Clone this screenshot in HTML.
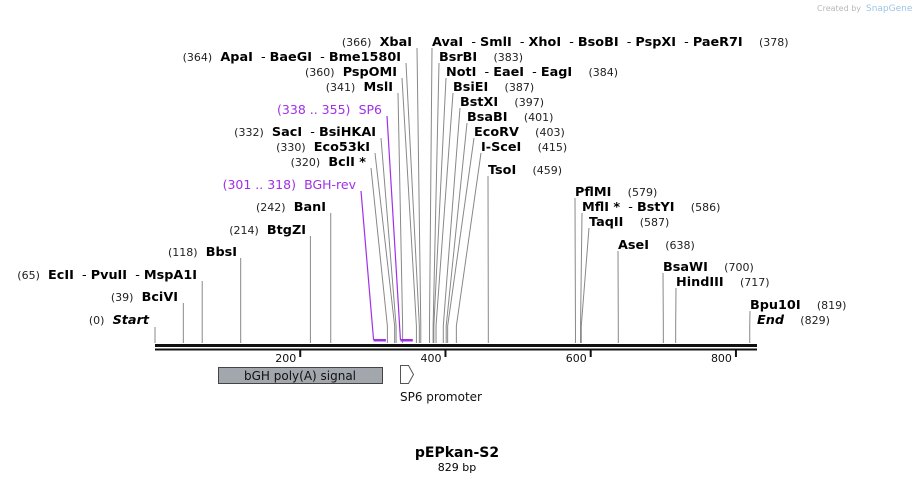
<!DOCTYPE html>
<html><head><meta charset="utf-8">
<style>
html,body{margin:0;padding:0;background:#fff;}
svg{display:block;font-family:"DejaVu Sans","Liberation Sans",sans-serif;}
.n{font-size:11px;fill:#222;}
.b{font-size:12.8px;font-weight:bold;fill:#000;}
.s{font-size:12.8px;fill:#000;}
.p{font-size:12.5px;fill:#a030e8;}
</style></head>
<body>
<svg id="map" width="914" height="483" viewBox="0 0 914 483" xmlns="http://www.w3.org/2000/svg">
<text x="817" y="11" font-size="8" fill="#b8b8b8">Created by</text>
<text x="866" y="11" font-size="9" fill="#9cc4e4">SnapGene</text>
<g id="sites"></g>
<g id="axis"></g>
<rect x="218.5" y="367.5" width="164" height="16" fill="#a2a6ad" stroke="#444"/>
<text x="300" y="380" text-anchor="middle" font-size="12" fill="#111">bGH poly(A) signal</text>
<path d="M400.5,365.5 L408.5,365.5 L413.5,374.5 L408.5,383.5 L400.5,383.5 Z" fill="#fff" stroke="#555"/>
<text x="400" y="401" font-size="12" fill="#111">SP6 promoter</text>
<text x="457" y="457" text-anchor="middle" font-size="14" font-weight="bold" fill="#000">pEPkan-S2</text>
<text x="457" y="471" text-anchor="middle" font-size="11" fill="#000">829 bp</text>
</svg>
<script>
const totalBp = 829;
const axisTicks = [200, 400, 600, 800];
const leftPositions = [366,364,360,341,338,332,330,320,301,242,214,118,65,39,0];
const leftNumbers = ["(366)","(364)","(360)","(341)","(338 .. 355)","(332)","(330)","(320)","(301 .. 318)","(242)","(214)","(118)","(65)","(39)","(0)"];
const leftNames = [["XbaI"],["ApaI","BaeGI","Bme1580I"],["PspOMI"],["MslI"],["SP6"],["SacI","BsiHKAI"],["Eco53kI"],["BclI *"],["BGH-rev"],["BanI"],["BtgZI"],["BbsI"],["EcII","PvuII","MspA1I"],["BciVI"],["Start"]];
const leftEnd = [412,401,397,393,382,376,370,366,356,326,306,237,197,178,149];
const leftY = [46,61,76,91,114,136,151,166,189,211,234,256,279,301,324];
const leftFeatureEnd = [0,0,0,0,355,0,0,0,318,0,0,0,0,0,0];
const rightPositions = [378,383,384,387,397,401,403,415,459,579,586,587,638,700,717,819,829];
const rightNumbers = ["(378)","(383)","(384)","(387)","(397)","(401)","(403)","(415)","(459)","(579)","(586)","(587)","(638)","(700)","(717)","(819)","(829)"];
const rightNames = [["AvaI","SmlI","XhoI","BsoBI","PspXI","PaeR7I"],["BsrBI"],["NotI","EaeI","EagI"],["BsiEI"],["BstXI"],["BsaBI"],["EcoRV"],["I-SceI"],["TsoI"],["PflMI"],["MflI *","BstYI"],["TaqII"],["AseI"],["BsaWI"],["HindIII"],["Bpu10I"],["End"]];
const rightStart = [432,439,446,453,460,467,474,481,488,575,582,589,618,663,676,750,757];
const rightY = [46,61,76,91,106,121,136,151,174,196,211,226,249,271,286,309,324];

const NS="http://www.w3.org/2000/svg";
const X0=155, X1=757;
function xs(bp){return X0+bp*(X1-X0)/totalBp;}
const sites=document.getElementById('sites');
const axis=document.getElementById('axis');
function mk(tag,attrs,parent){const e=document.createElementNS(NS,tag);for(const k in attrs)e.setAttribute(k,attrs[k]);parent.appendChild(e);return e;}

function label(numTxt,names,x,y,anchor,isFeat,italic,numFirst){
  const t=mk('text',{x:x,y:y,'text-anchor':anchor},sites);
  
  
  const parts=[];
  const nm=[];
  names.forEach((n,i)=>{ if(i>0) nm.push({t:'\u00a0\u00a0-\u00a0',c:'s'}); nm.push({t:n,c:isFeat?'p':'b'}); });
  const num={t:numTxt,c:isFeat?'p':'n'};
  if(numFirst){parts.push(num);parts.push({t:'\u00a0\u00a0',c:'s'});parts.push(...nm);}
  else{parts.push(...nm);parts.push({t:'\u00a0\u00a0\u00a0\u00a0',c:'s'});parts.push(num);}
  parts.forEach(p=>{const s=mk('tspan',{class:p.c},t);s.textContent=p.t;if(italic&&p.c==='b')s.setAttribute('font-style','italic');});
}

function siteLine(topX,topY,bp,color,w){
  const bx=xs(bp);
  const l=mk('polyline',{points:`${topX},${topY} ${bx},326 ${bx},343`,fill:'none',stroke:color,'stroke-width':w||1},sites);
  
  
}

leftPositions.forEach((bp,i)=>{
  const feat=leftFeatureEnd[i]>0;
  const ital=(leftNames[i][0]==='Start');
  label(leftNumbers[i],leftNames[i],leftEnd[i],leftY[i],'end',feat,ital,true);
  if(ital) return;
  const topX=leftEnd[i]+5, topY=leftY[i]+2;
  if(feat){
    const bx=xs(bp);
    const l=mk('polyline',{points:`${topX},${topY} ${bx},340`,fill:'none',stroke:'#a030e8','stroke-width':1.2},sites);
    
    
    const r=mk('rect',{x:bx,y:339,width:xs(leftFeatureEnd[i])-bx,height:2.5,fill:'#a030e8'},sites);
    
    
  } else if(bp>300){
    siteLine(topX,topY,bp,'#888');
  } else {
    const bx=xs(bp);
    const l=mk('line',{x1:bx,y1:leftY[i]+2,x2:bx,y2:343,stroke:'#888'},sites);
    
    
  }
});
rightPositions.forEach((bp,i)=>{
  const ital=(rightNames[i][0]==='End');
  label(rightNumbers[i],rightNames[i],rightStart[i],rightY[i],'start',false,ital,false);
  if(ital) return;
  siteLine(rightStart[i],rightY[i]+2,bp,'#888');
});
[0].forEach(bp=>{const l=mk('line',{x1:xs(bp),y1:327,x2:xs(bp),y2:343,stroke:'#888'},sites);});

const b1=mk('rect',{x:X0,y:344,width:X1-X0,height:3,fill:'#111'},axis);


const b2=mk('rect',{x:X0,y:348.5,width:X1-X0,height:2,fill:'#111'},axis);


axisTicks.forEach(v=>{
  const x=xs(v);
  const tk=mk('rect',{x:x-1,y:350,width:2,height:7,fill:'#111'},axis);
  
  
  const tl=mk('text',{x:x-4,y:362,'text-anchor':'end','font-size':11,fill:'#111'},axis);
  
  
  tl.textContent=v;
});
</script>
</body></html>
